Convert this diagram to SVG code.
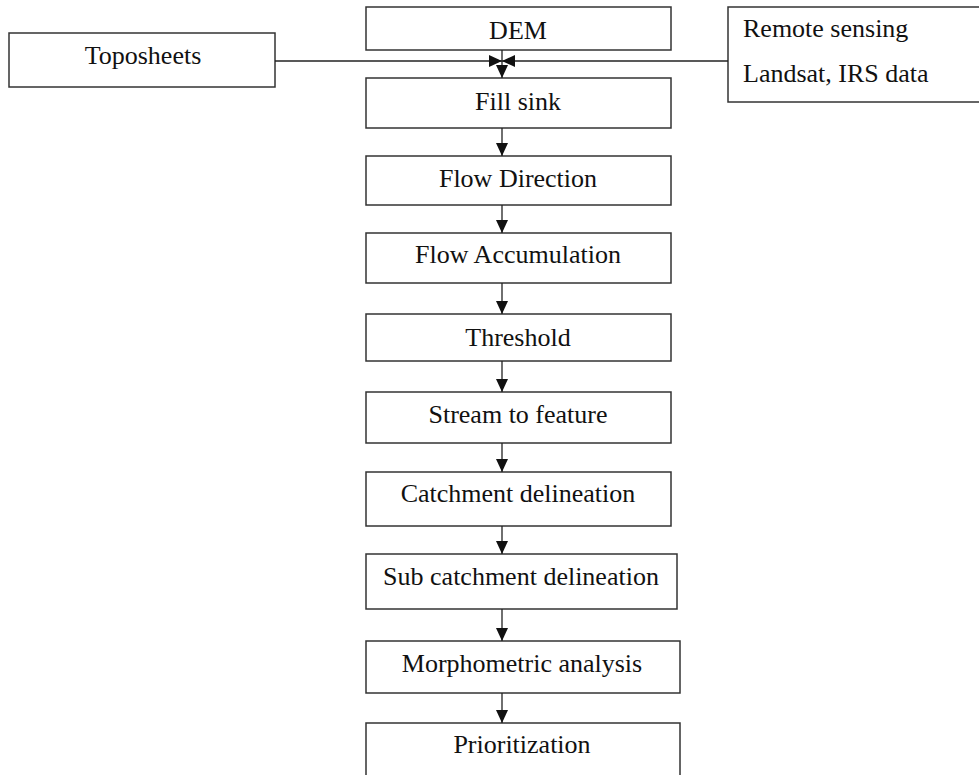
<svg xmlns="http://www.w3.org/2000/svg" width="979" height="775" viewBox="0 0 979 775">
<style>
.box{fill:#fff;stroke:#333;stroke-width:1.5}
.t{font-family:"Liberation Serif","Times New Roman",serif;font-size:26px;fill:#111}
.c{text-anchor:middle}
.ln{stroke:#222;stroke-width:1.3;fill:none;marker-end:url(#ah)}
</style>
<defs>
<marker id="ah" markerUnits="userSpaceOnUse" markerWidth="13" markerHeight="12" viewBox="0 0 13 12" refX="13" refY="6" orient="auto">
<path d="M0,0 L13,6 L0,12 z" fill="#111"/>
</marker>
</defs>
<rect width="979" height="775" fill="#fff"/>
<g id="toposheets"><rect class="box" x="9" y="33" width="266" height="54"/><text class="t c" x="143" y="64">Toposheets</text></g>
<g id="remote"><rect class="box" x="728" y="7" width="260" height="95"/><text class="t" x="743" y="37">Remote sensing</text><text class="t" x="743" y="82">Landsat, IRS data</text></g>
<g id="dem"><rect class="box" x="366" y="7" width="305" height="43"/><text class="t c" x="518" y="39">DEM</text></g>
<g id="fillsink"><rect class="box" x="366" y="78" width="305" height="50"/><text class="t c" x="518" y="110">Fill sink</text></g>
<g id="flowdir"><rect class="box" x="366" y="156" width="305" height="49"/><text class="t c" x="518" y="187">Flow Direction</text></g>
<g id="flowacc"><rect class="box" x="366" y="233" width="305" height="50"/><text class="t c" x="518" y="263">Flow Accumulation</text></g>
<g id="threshold"><rect class="box" x="366" y="314" width="305" height="47"/><text class="t c" x="518" y="346">Threshold</text></g>
<g id="stream"><rect class="box" x="366" y="392" width="305" height="51"/><text class="t c" x="518" y="423">Stream to feature</text></g>
<g id="catchment"><rect class="box" x="366" y="472" width="305" height="54"/><text class="t c" x="518" y="502">Catchment delineation</text></g>
<g id="subcatchment"><rect class="box" x="366" y="554" width="311" height="55"/><text class="t c" x="521" y="585">Sub catchment delineation</text></g>
<g id="morpho"><rect class="box" x="366" y="641" width="314" height="52"/><text class="t c" x="522" y="672">Morphometric analysis</text></g>
<g id="prior"><rect class="box" x="366" y="723" width="314" height="70"/><text class="t c" x="522" y="753">Prioritization</text></g>
<g id="connectors">
<line class="ln" x1="275" y1="61" x2="502" y2="61"/>
<line class="ln" x1="728" y1="61" x2="502" y2="61"/>
<line class="ln" x1="502" y1="50" x2="502" y2="78"/>
<line class="ln" x1="502" y1="128" x2="502" y2="156"/>
<line class="ln" x1="502" y1="205" x2="502" y2="233"/>
<line class="ln" x1="502" y1="283" x2="502" y2="314"/>
<line class="ln" x1="502" y1="361" x2="502" y2="392"/>
<line class="ln" x1="502" y1="443" x2="502" y2="472"/>
<line class="ln" x1="502" y1="526" x2="502" y2="554"/>
<line class="ln" x1="502" y1="609" x2="502" y2="641"/>
<line class="ln" x1="502" y1="693" x2="502" y2="723"/>
</g>
</svg>
